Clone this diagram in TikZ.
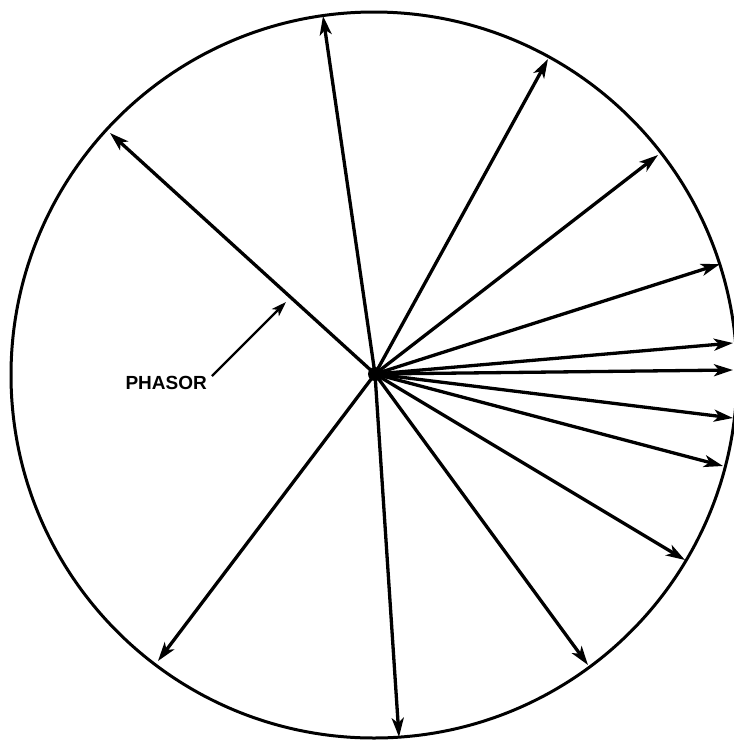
\documentclass[tikz,border=0pt]{standalone}
\usepackage{fontspec}
\setmainfont{Liberation Sans}
\usetikzlibrary{arrows.meta}
\begin{document}
\begin{tikzpicture}[x=1pt,y=-1pt,
  phasor/.style={line width=3.3pt,-{Stealth[length=19pt,width=12pt,inset=5pt]}},
  thin arrow/.style={line width=2.4pt,-{Stealth[length=15pt,width=10pt,inset=4pt]}}]
\useasboundingbox[fill=white] (0,0) rectangle (734,740);
\coordinate (c) at (375,374);
\draw[line width=3pt] (374,375) circle (363);
\foreach \n/\x/\y in {a/110/133, b/323/16, c2/548/59, d/658/155, e/720/264, f/733/343, g/733/370, h/733/418, i/723/466, j/685/560, k/588/665, l/399/737, m/158/661} {
  \coordinate (\n) at (\x,\y);
  \draw[phasor] (c) -- (\n);
}
\fill (c) circle (7);
\node[font=\bfseries\fontsize{19}{21}\selectfont, anchor=east, inner sep=0pt] (lbl) at (207,383) {PHASOR};
\coordinate (t) at (286,302);
\draw[thin arrow] (212,376) -- (t);
\end{tikzpicture}
\end{document}
